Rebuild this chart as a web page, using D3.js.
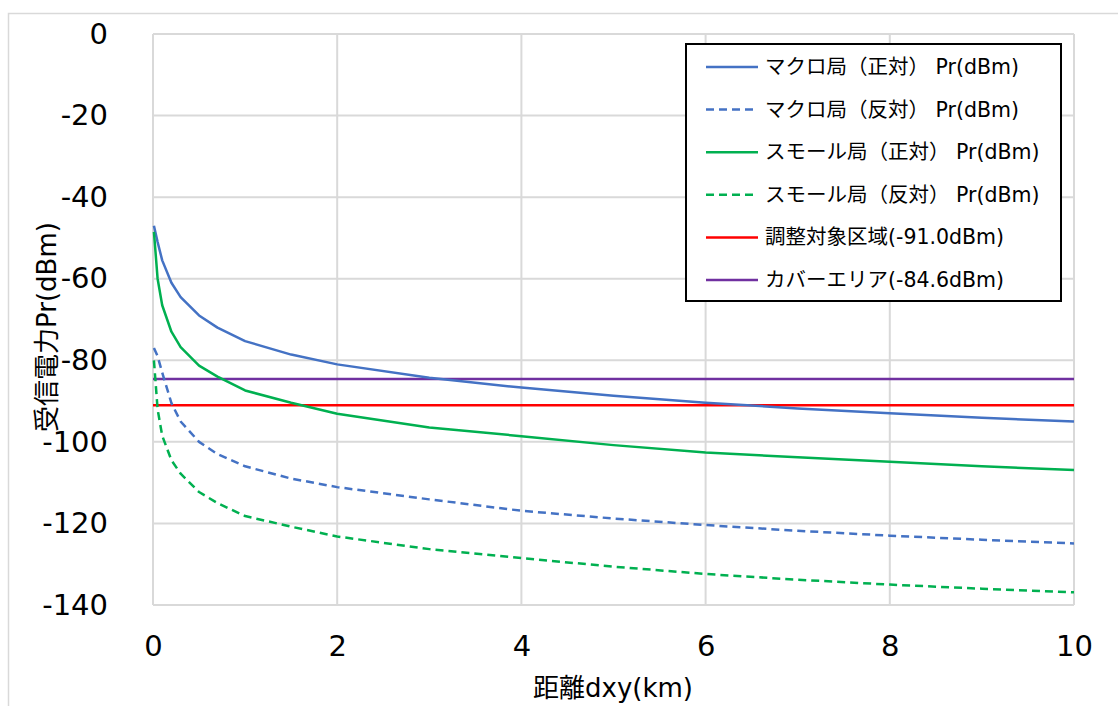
<!DOCTYPE html>
<html><head><meta charset="utf-8">
<script src="https://cdn.jsdelivr.net/npm/d3@7"></script>
<style>body{margin:0;background:#fff;}svg{display:block;}</style>
</head><body>
<svg id="c" width="1118" height="706"></svg>
<script>
const distances = [0.01,0.05,0.1,0.2,0.3,0.5,0.7,1,1.5,2,3,4,5,6,7,8,9,10];
const macroFront = [-47,-51,-55.5,-61,-64.5,-69,-72,-75.3,-78.6,-81,-84.3,-86.7,-88.7,-90.4,-91.8,-93.0,-94.1,-95.0];
const macroBack  = [-77,-79,-83,-90.5,-95,-100,-103,-106,-109,-111.1,-114.1,-116.9,-118.8,-120.4,-121.8,-123.0,-124.0,-124.9];
const smallFront = [-48.5,-60,-66.5,-73,-76.8,-81.3,-84,-87.4,-90.4,-93.1,-96.5,-98.6,-100.8,-102.6,-103.8,-104.9,-106,-106.9];
const smallBack  = [-80,-92,-98.5,-104.5,-107.8,-112.3,-115,-118.2,-120.8,-123.2,-126.3,-128.5,-130.6,-132.4,-133.8,-135.0,-136,-136.9];
const adjustLevel = -91.0;
const coverLevel = -84.6;
const xTicks = [0,2,4,6,8,10];
const yTicks = [0,-20,-40,-60,-80,-100,-120,-140];
const seriesNames = ["マクロ局（正対） Pr(dBm)","マクロ局（反対） Pr(dBm)","スモール局（正対） Pr(dBm)","スモール局（反対） Pr(dBm)","調整対象区域(-91.0dBm)","カバーエリア(-84.6dBm)"];
const xTitle = "距離dxy(km)";
const yTitle = "受信電力Pr(dBm)";

const svg = d3.select("#c");
const FONT = "'DejaVu Sans','Noto Sans CJK JP',sans-serif";
const L = 153, R = 1074, T = 34, B = 605;
const x = d3.scaleLinear().domain([0,10]).range([L,R]);
const y = d3.scaleLinear().domain([-140,0]).range([B,T]);

// outer chart border
svg.append("rect").attr("x",8.5).attr("y",13.5).attr("width",1200).attr("height",800)
  .attr("fill","#fff").attr("stroke","#d9d9d9").attr("stroke-width",1.5);

// gridlines
const grid = svg.append("g").attr("stroke","#d9d9d9").attr("stroke-width",2);
yTicks.forEach(t=>grid.append("line").attr("x1",L).attr("x2",R).attr("y1",y(t)).attr("y2",y(t)));
xTicks.forEach(t=>grid.append("line").attr("x1",x(t)).attr("x2",x(t)).attr("y1",T).attr("y2",B));

// axes labels via d3 axes
const yAxis = svg.append("g").attr("transform",`translate(${L},0)`)
  .call(d3.axisLeft(y).tickValues(yTicks).tickSize(0).tickPadding(45).tickFormat(d=>d));
yAxis.select(".domain").remove();
yAxis.selectAll("text").attr("font-family",FONT).attr("font-size",29).attr("fill","#000");

const xAxis = svg.append("g").attr("transform",`translate(0,${B})`)
  .call(d3.axisBottom(x).tickValues(xTicks).tickSize(0).tickPadding(30).tickFormat(d=>d));
xAxis.select(".domain").remove();
xAxis.selectAll("text").attr("font-family",FONT).attr("font-size",29).attr("fill","#000");

// titles
svg.append("text").attr("x",613).attr("y",697).attr("text-anchor","middle")
  .attr("font-family",FONT).attr("font-size",26).attr("fill","#000").text(xTitle);
svg.append("text").attr("transform","translate(56,327) rotate(-90)").attr("text-anchor","middle")
  .attr("font-family",FONT).attr("font-size",26).attr("fill","#000").text(yTitle);

// series
const line = d3.line().x(d=>x(d[0])).y(d=>y(d[1]));
const series = [
  {vals: macroFront, color:"#4472C4", dash:null},
  {vals: macroBack,  color:"#4472C4", dash:"8,5"},
  {vals: smallFront, color:"#00B050", dash:null},
  {vals: smallBack,  color:"#00B050", dash:"8,5"},
];
// horizontal levels
svg.append("line").attr("x1",x(0)).attr("x2",x(10)).attr("y1",y(coverLevel)).attr("y2",y(coverLevel))
  .attr("stroke","#7030A0").attr("stroke-width",2.5);
svg.append("line").attr("x1",x(0)).attr("x2",x(10)).attr("y1",y(adjustLevel)).attr("y2",y(adjustLevel))
  .attr("stroke","#FF0000").attr("stroke-width",2.5);
series.forEach(s=>{
  svg.append("path").datum(distances.map((d,i)=>[d,s.vals[i]]))
    .attr("d",line).attr("fill","none").attr("stroke",s.color).attr("stroke-width",2.5)
    .attr("stroke-dasharray",s.dash).attr("stroke-linejoin","round");
});

// legend
const lg = svg.append("g");
lg.append("rect").attr("x",686).attr("y",44).attr("width",375).attr("height",257)
  .attr("fill","#fff").attr("stroke","#000").attr("stroke-width",2);
const legendItems = [
  {color:"#4472C4",dash:null},{color:"#4472C4",dash:"8,5"},
  {color:"#00B050",dash:null},{color:"#00B050",dash:"8,5"},
  {color:"#FF0000",dash:null},{color:"#7030A0",dash:null}];
legendItems.forEach((it,i)=>{
  const yy = 67 + i*42.6;
  lg.append("line").attr("x1",706).attr("x2",758).attr("y1",yy).attr("y2",yy)
    .attr("stroke",it.color).attr("stroke-width",2.5).attr("stroke-dasharray",it.dash);
  lg.append("text").attr("x",765).attr("y",yy+7).attr("font-family",FONT).attr("font-size",20.5)
    .attr("fill","#000").text(seriesNames[i]);
});
</script>
</body></html>
